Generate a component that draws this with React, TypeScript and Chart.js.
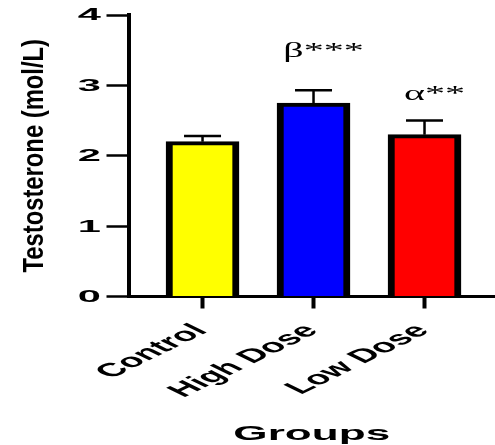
import React, { useEffect, useRef } from 'react';
import { Chart, registerables } from 'chart.js';

Chart.register(...registerables);

const CATEGORIES = ['Control', 'High Dose', 'Low Dose'];
const MEANS = [2.2, 2.75, 2.3];
const ERRORS = [0.08, 0.18, 0.2];
const COLORS = ['#FFFF00', '#0000FF', '#FF0000'];
const SIGNIF = ['', 'β***', 'α**'];
const SIGNIF_GAP = [0, 33, 21];
const Y_TICKS = [0, 1, 2, 3, 4];
const X_TITLE = 'Groups';
const Y_TITLE = 'Testosterone (mol/L)';

function drawText(
  ctx: CanvasRenderingContext2D,
  text: string,
  x: number,
  y: number,
  font: string,
  sx: number,
  align: CanvasTextAlign,
  baseline: CanvasTextBaseline,
  rot = 0
) {
  ctx.save();
  ctx.translate(x, y);
  ctx.scale(sx, 1);
  ctx.rotate(rot);
  ctx.font = font;
  ctx.textAlign = align;
  ctx.textBaseline = baseline;
  ctx.fillStyle = '#000';
  ctx.fillText(text, 0, 0);
  ctx.restore();
}

const customPlugin = {
  id: 'customDraw',
  afterDatasetsDraw(chart: any) {
    const ctx: CanvasRenderingContext2D = chart.ctx;
    const meta = chart.getDatasetMeta(0);
    const ys = chart.scales.y;
    const xs = chart.scales.x;
    const area = chart.chartArea;

    // error bars
    ctx.save();
    ctx.strokeStyle = '#000';
    ctx.lineWidth = 2.5;
    meta.data.forEach((bar: any, i: number) => {
      const top = ys.getPixelForValue(MEANS[i] + ERRORS[i]);
      ctx.beginPath();
      ctx.moveTo(bar.x, bar.y);
      ctx.lineTo(bar.x, top);
      ctx.moveTo(bar.x - 18.5, top);
      ctx.lineTo(bar.x + 18.5, top);
      ctx.stroke();
    });
    ctx.restore();

    // significance labels
    meta.data.forEach((bar: any, i: number) => {
      if (!SIGNIF[i]) return;
      const top = ys.getPixelForValue(MEANS[i] + ERRORS[i]);
      drawText(ctx, SIGNIF[i], bar.x + 10, top - SIGNIF_GAP[i], '20px "Liberation Serif"', 2.0, 'center', 'alphabetic');
    });

    // y tick labels
    Y_TICKS.forEach((v) => {
      drawText(ctx, String(v), ys.left - 5.5, ys.getPixelForValue(v) + 1, 'bold 16px "Liberation Sans"', 2.6, 'right', 'middle');
    });

    // x tick labels
    CATEGORIES.forEach((c, i) => {
      drawText(ctx, c, xs.getPixelForValue(i) + 6, xs.bottom + 23, 'bold 19px "Liberation Sans"', 2.05, 'right', 'alphabetic', -Math.PI / 4);
    });

    // x title
    drawText(ctx, X_TITLE, (area.left + area.right) / 2, 440, 'bold 21px "Liberation Sans"', 2.1, 'center', 'alphabetic');

    // y title (condensed along its baseline)
    ctx.save();
    ctx.translate(43, (area.top + area.bottom) / 2);
    ctx.rotate(-Math.PI / 2);
    ctx.scale(0.82, 1);
    ctx.font = 'bold 29px "Liberation Sans"';
    ctx.textAlign = 'center';
    ctx.textBaseline = 'alphabetic';
    ctx.fillStyle = '#000';
    ctx.fillText(Y_TITLE, 0, 0);
    ctx.restore();
  },
};

export default function App() {
  const canvasRef = useRef<HTMLCanvasElement | null>(null);

  useEffect(() => {
    const canvas = canvasRef.current;
    if (!canvas) return;
    const chart = new Chart(canvas, {
      type: 'bar',
      data: {
        datasets: [
          {
            data: CATEGORIES.map((_, i) => ({ x: i, y: MEANS[i] })) as any,
            backgroundColor: COLORS,
            borderColor: '#000',
            borderWidth: { top: 4, left: 7, right: 7, bottom: 0 } as any,
            borderSkipped: 'start',
            barThickness: 73,
          },
        ],
      },
      options: {
        animation: false,
        responsive: false,
        devicePixelRatio: 1,
        layout: { padding: { left: 106.5, right: 0, top: 15, bottom: 136.5 } },
        plugins: { legend: { display: false }, tooltip: { enabled: false } },
        scales: {
          x: {
            type: 'linear',
            offset: false,
            min: -0.667,
            max: 2.635,
            afterBuildTicks: (scale: any) => {
              scale.ticks = CATEGORIES.map((_, i) => ({ value: i }));
            },
            ticks: { display: false },
            grid: {
              display: true,
              offset: false,
              drawOnChartArea: false,
              drawTicks: true,
              tickLength: 12,
              tickWidth: 4,
              tickColor: '#000',
            },
            border: { display: true, color: '#000', width: 3 },
          },
          y: {
            type: 'linear',
            min: 0,
            max: 4,
            ticks: { display: false, stepSize: 1 },
            grid: {
              display: true,
              offset: false,
              drawOnChartArea: false,
              drawTicks: true,
              tickLength: 22,
              tickWidth: 2.5,
              tickColor: '#000',
            },
            border: { display: true, color: '#000', width: 4 },
          },
        },
      },
      plugins: [customPlugin],
    });
    return () => chart.destroy();
  }, []);

  return (
    <div style={{ position: 'absolute', left: 0, top: 0, width: 495, height: 445, background: '#fff' }}>
      <canvas ref={canvasRef} width={495} height={445} style={{ display: 'block' }} />
    </div>
  );
}
